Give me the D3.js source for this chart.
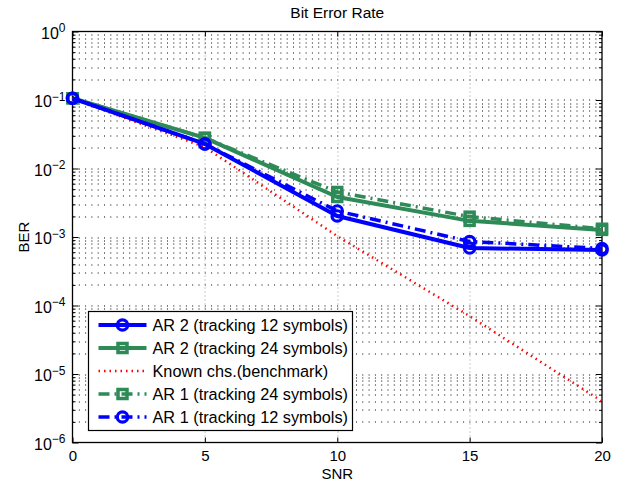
<!DOCTYPE html>
<html>
<head>
<meta charset="utf-8">
<script src="https://cdn.jsdelivr.net/npm/d3@7"></script>
<style>
  body { margin: 0; background: #fff; }
  text { font-family: "Liberation Sans", Arial, sans-serif; fill: #000; }
</style>
</head>
<body>
<div class="chart"></div>
<script>
// Bit Error Rate chart

// data
var snr = [0, 5, 10, 15, 20];
var ar2Track12 = [0.106, 0.0228, 0.00203, 0.00069, 0.000646];
var ar2Track24 = [0.106, 0.028, 0.00384, 0.00172, 0.00127];
var knownChs = [0.104, 0.0205, 0.00103, 0.00007, 0.000004];
var ar1Track24 = [0.106, 0.028, 0.00454, 0.00198, 0.00132];
var ar1Track12 = [0.106, 0.0228, 0.0024, 0.00086, 0.00068];
var seriesNames = ["AR 2 (tracking 12 symbols)", "AR 2 (tracking 24 symbols)",
    "Known chs.(benchmark)", "AR 1 (tracking 24 symbols)", "AR 1 (tracking 12 symbols)"];
var xTicks = [0, 5, 10, 15, 20];
var yDecades = [-6, -5, -4, -3, -2, -1, 0];

var svgWidth = 619;
var svgHeight = 487;
var margin = { top: 31.5, right: 17, bottom: 44.5, left: 72.5 };
var width = svgWidth - margin.left - margin.right;
var height = svgHeight - margin.top - margin.bottom;

var blue = "#0000ff";
var green = "#2e8b57";
var red = "#ff0000";

var svg = d3.select(".chart")
    .append("svg")
    .attr("width", svgWidth)
    .attr("height", svgHeight);

var chartGroup = svg.append("g")
    .attr("transform", `translate(${margin.left}, ${margin.top})`);

var xScale = d3.scaleLinear().domain([0, 20]).range([0, width]);
var yScale = d3.scaleLog().domain([1e-6, 1]).range([height, 0]);

// minor tick values (2..9 x 10^k)
var minorVals = [];
for (var k = -6; k < 0; k++) {
    for (var m = 2; m <= 9; m++) minorVals.push(m * Math.pow(10, k));
}
var decadeVals = yDecades.map(d => Math.pow(10, d));

// grid
var grid = chartGroup.append("g");
grid.selectAll(".hgrid")
    .data(minorVals.concat(decadeVals.slice(1, -1)))
    .enter()
    .append("line")
    .attr("x1", 0).attr("x2", width)
    .attr("y1", d => Math.round(yScale(d)) + 0.5)
    .attr("y2", d => Math.round(yScale(d)) + 0.5)
    .attr("stroke", "#000")
    .attr("stroke-width", 1)
    .attr("stroke-dasharray", "1,5.3");
grid.selectAll(".vgrid")
    .data(xTicks.slice(1, -1))
    .enter()
    .append("line")
    .attr("x1", d => Math.round(xScale(d)) + 0.5)
    .attr("x2", d => Math.round(xScale(d)) + 0.5)
    .attr("y1", 0).attr("y2", height)
    .attr("stroke", "#999")
    .attr("stroke-width", 1)
    .attr("stroke-dasharray", "1,3");

// axes (ticks inside)
var bottomAxis = d3.axisBottom(xScale).tickValues(xTicks).tickSizeInner(-5).tickSizeOuter(0).tickPadding(8);
var topAxis = d3.axisTop(xScale).tickValues(xTicks).tickSizeInner(-5).tickSizeOuter(0).tickFormat("");
var leftAxis = d3.axisLeft(yScale).tickValues(decadeVals).tickSizeInner(-6).tickSizeOuter(0).tickPadding(10);
var rightAxis = d3.axisRight(yScale).tickValues(decadeVals).tickSizeInner(-6).tickSizeOuter(0).tickFormat("");
var leftMinor = d3.axisLeft(yScale).tickValues(minorVals).tickSizeInner(-3).tickSizeOuter(0).tickFormat("");
var rightMinor = d3.axisRight(yScale).tickValues(minorVals).tickSizeInner(-3).tickSizeOuter(0).tickFormat("");

var xAxisG = chartGroup.append("g").attr("transform", `translate(0, ${height})`).call(bottomAxis);
chartGroup.append("g").call(topAxis);
var yAxisG = chartGroup.append("g").call(leftAxis);
chartGroup.append("g").attr("transform", `translate(${width}, 0)`).call(rightAxis);
chartGroup.append("g").call(leftMinor);
chartGroup.append("g").attr("transform", `translate(${width}, 0)`).call(rightMinor);

chartGroup.selectAll(".domain").remove();
chartGroup.selectAll(".tick line").attr("stroke", "#000");
chartGroup.append("rect")
    .attr("width", width).attr("height", height)
    .attr("fill", "none").attr("stroke", "#000").attr("stroke-width", 1.3);

xAxisG.selectAll("text").attr("font-size", "15px").attr("fill", "#000");

// y labels as 10 with superscript
yAxisG.selectAll(".tick text").each(function (d) {
    var t = d3.select(this);
    var e = Math.round(Math.log10(d));
    t.text("").attr("font-size", "16px").attr("fill", "#000").attr("dy", "0.42em").attr("x", -7);
    t.append("tspan").text("10");
    t.append("tspan").attr("dy", "-0.55em").attr("font-size", "12px").text(e === 0 ? "0" : "\u2212" + Math.abs(e));
});

// series
var series = [
    { name: seriesNames[1], values: ar2Track24, color: green, width: 4, dash: null, marker: "square" },
    { name: seriesNames[2], values: knownChs, color: red, width: 2.5, dash: "1.5,4", marker: null },
    { name: seriesNames[3], values: ar1Track24, color: green, width: 3.5, dash: "11,5,2,5", marker: "square" },
    { name: seriesNames[0], values: ar2Track12, color: blue, width: 4, dash: null, marker: "circle" },
    { name: seriesNames[4], values: ar1Track12, color: blue, width: 3.5, dash: "11,5,2,5", marker: "circle" }
];

var line = d3.line()
    .x((d, i) => xScale(snr[i]))
    .y(d => yScale(d));

function drawMarker(g, type, color, x, y) {
    if (type === "circle") {
        g.append("circle").attr("cx", x).attr("cy", y).attr("r", 5.2)
            .attr("fill", "none").attr("stroke", color).attr("stroke-width", 3.2);
    } else if (type === "square") {
        g.append("rect").attr("x", x - 4.5).attr("y", y - 4.5).attr("width", 9).attr("height", 9)
            .attr("fill", "none").attr("stroke", color).attr("stroke-width", 3.5);
    }
}

series.forEach(function (s) {
    var g = chartGroup.append("g");
    g.append("path")
        .datum(s.values)
        .attr("d", line)
        .attr("fill", "none")
        .attr("stroke", s.color)
        .attr("stroke-width", s.width)
        .attr("stroke-linejoin", "round")
        .attr("stroke-dasharray", s.dash);
    if (s.marker) {
        s.values.forEach(function (v, i) {
            drawMarker(g, s.marker, s.color, xScale(snr[i]), yScale(v));
        });
    }
});

// legend
var legendOrder = [3, 0, 1, 2, 4];
var legend = svg.append("g").attr("transform", "translate(88.5, 311.5)");
legend.append("rect")
    .attr("width", 264).attr("height", 119)
    .attr("fill", "#fff").attr("stroke", "#000").attr("stroke-width", 1.2);
legendOrder.forEach(function (idx, i) {
    var s = series[idx];
    var y = 13.5 + i * 23;
    var row = legend.append("g");
    row.append("line")
        .attr("x1", 10).attr("x2", 58).attr("y1", y).attr("y2", y)
        .attr("stroke", s.color).attr("stroke-width", s.width)
        .attr("stroke-dasharray", s.dash);
    if (s.marker) drawMarker(row, s.marker, s.color, 34, y);
    row.append("text")
        .attr("x", 64).attr("y", y).attr("dy", "0.36em")
        .attr("font-size", "16.3px")
        .text(s.name);
});

// title and axis labels
svg.append("text")
    .attr("x", margin.left + width / 2).attr("y", 18)
    .attr("text-anchor", "middle").attr("font-size", "15.5px")
    .text("Bit Error Rate");

svg.append("text")
    .attr("x", margin.left + width / 2).attr("y", 479)
    .attr("text-anchor", "middle").attr("font-size", "15px")
    .text("SNR");

svg.append("text")
    .attr("transform", `translate(29, ${margin.top + height / 2}) rotate(-90)`)
    .attr("text-anchor", "middle").attr("font-size", "15px")
    .text("BER");
</script>
</body>
</html>
